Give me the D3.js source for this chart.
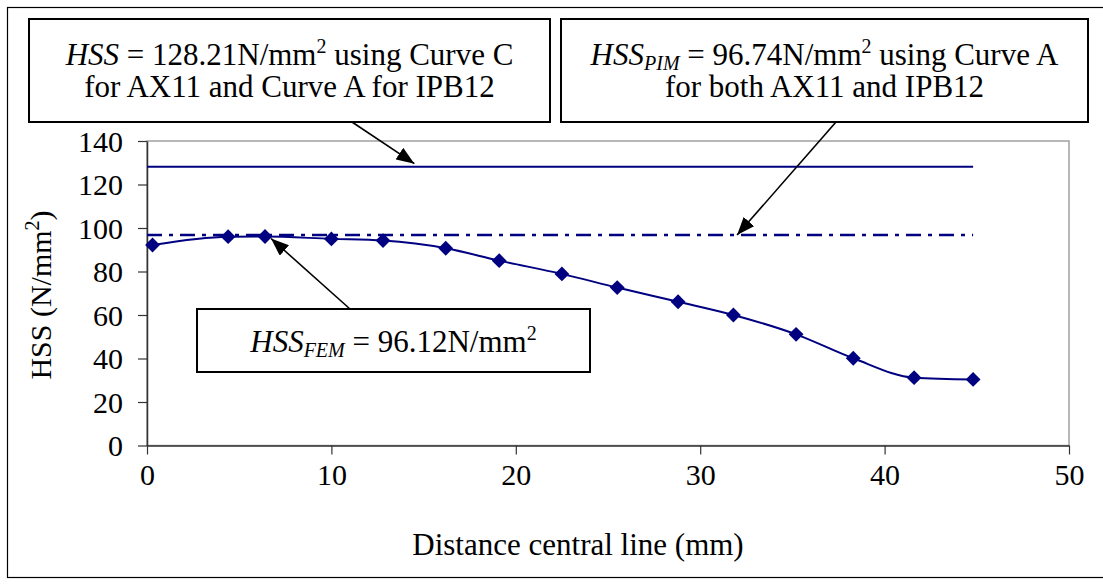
<!DOCTYPE html>
<html>
<head>
<meta charset="utf-8">
<script src="https://cdn.jsdelivr.net/npm/d3@7"></script>
<style>
  body { margin: 0; background: #fff; }
  svg text { font-family: "Liberation Serif", "Times New Roman", serif; fill: #000; }
</style>
</head>
<body>
<div id="container"></div>
<script>
//### DATA ###
const distance = [0.3, 4.4, 6.4, 10.0, 12.8, 16.2, 19.1, 22.5, 25.5, 28.8, 31.8, 35.2, 38.3, 41.6, 44.8];
const hssFem   = [92.2, 96.0, 96.1, 95.0, 94.2, 90.7, 85.0, 78.9, 72.6, 66.1, 60.0, 51.1, 40.1, 31.2, 30.4];
const hssCurveC = 128.21;   // Curve C for AX11, Curve A for IPB12
const hssPim = 96.74;       // Curve A for both
const refRange = [0, 44.8];
const xTicks = [0, 10, 20, 30, 40, 50];
const yTicks = [0, 20, 40, 60, 80, 100, 120, 140];

//### LAYOUT ###
const width = 1103, height = 585;
const plot = { left: 147, right: 1069, top: 141, bottom: 445.5 };
const navy = '#000080';
const tickFont = 30;
const noteFont = 31;

const svg = d3.select('#container').append('svg')
  .attr('width', width).attr('height', height);

//>>> outer chart border
svg.append('rect')
  .attr('x', 7.5).attr('y', 7.5).attr('width', 1100).attr('height', 570)
  .attr('fill', 'none').attr('stroke', '#000').attr('stroke-width', 1.2);

//_____ SCALES _____
const x = d3.scaleLinear().domain([0, 50]).range([plot.left, plot.right]);
const y = d3.scaleLinear().domain([0, 140]).range([plot.bottom, plot.top]);

//>>> plot area frame (gray)
svg.append('rect')
  .attr('x', plot.left).attr('y', plot.top)
  .attr('width', plot.right - plot.left).attr('height', plot.bottom - plot.top)
  .attr('fill', 'none').attr('stroke', '#a0a0a0').attr('stroke-width', 1.5);

//_____ AXES _____
const xAxis = svg.append('g')
  .attr('transform', `translate(0,${plot.bottom})`)
  .call(d3.axisBottom(x).tickValues(xTicks).tickSize(9).tickPadding(9).tickSizeOuter(0));
const yAxis = svg.append('g')
  .attr('transform', `translate(${plot.left},0)`)
  .call(d3.axisLeft(y).tickValues(yTicks).tickSize(9).tickPadding(15).tickSizeOuter(0));

[xAxis, yAxis].forEach(g => {
  g.select('.domain').attr('stroke', '#333').attr('stroke-width', 1.5);
  g.selectAll('line').attr('stroke', '#333').attr('stroke-width', 1.2);
  g.selectAll('text')
    .attr('font-family', '"Liberation Serif", serif')
    .attr('font-size', tickFont).attr('fill', '#000');
});
yAxis.selectAll('text').attr('dy', '0.34em');

//>>> axis titles
svg.append('text')
  .attr('x', 578).attr('y', 555)
  .attr('text-anchor', 'middle').attr('font-size', noteFont)
  .text('Distance central line (mm)');

const yTitle = svg.append('text')
  .attr('transform', `translate(51,295) rotate(-90)`)
  .attr('text-anchor', 'middle').attr('font-size', tickFont);
yTitle.append('tspan').text('HSS (N/mm');
yTitle.append('tspan').attr('font-size', 20).attr('dy', -12).text('2');
yTitle.append('tspan').attr('dy', 12).text(')');

//_____ REFERENCE LINES _____
svg.append('line')
  .attr('x1', x(refRange[0])).attr('x2', x(refRange[1]))
  .attr('y1', y(hssCurveC)).attr('y2', y(hssCurveC))
  .attr('stroke', navy).attr('stroke-width', 2);

svg.append('line')
  .attr('x1', x(refRange[0])).attr('x2', x(refRange[1]))
  .attr('y1', y(hssPim)).attr('y2', y(hssPim))
  .attr('stroke', navy).attr('stroke-width', 2.5)
  .attr('stroke-dasharray', '15,7,4,7');

//_____ FEM CURVE _____
const femData = distance.map((d, i) => ({ x: d, y: hssFem[i] }));
svg.append('path')
  .datum(femData)
  .attr('fill', 'none').attr('stroke', navy).attr('stroke-width', 2)
  .attr('d', d3.line().x(d => x(d.x)).y(d => y(d.y)).curve(d3.curveMonotoneX));

svg.selectAll('.marker')
  .data(femData).enter().append('path')
  .attr('class', 'marker')
  .attr('transform', d => `translate(${x(d.x)},${y(d.y)}) rotate(45)`)
  .attr('d', d3.symbol(d3.symbolSquare, 110))
  .attr('fill', navy);

//_____ ANNOTATIONS _____
svg.append('defs').append('marker')
  .attr('id', 'arrow')
  .attr('markerUnits', 'userSpaceOnUse')
  .attr('viewBox', '0 0 18 14')
  .attr('refX', 18).attr('refY', 7)
  .attr('markerWidth', 18).attr('markerHeight', 14)
  .attr('orient', 'auto')
  .append('path').attr('d', 'M0,0 L18,7 L0,14 Z').attr('fill', '#000');

function box(x0, y0, w, h) {
  svg.append('rect')
    .attr('x', x0).attr('y', y0).attr('width', w).attr('height', h)
    .attr('fill', '#fff').attr('stroke', '#000').attr('stroke-width', 2);
}
function arrow(x1, y1, x2, y2) {
  svg.append('line')
    .attr('x1', x1).attr('y1', y1).attr('x2', x2).attr('y2', y2)
    .attr('stroke', '#000').attr('stroke-width', 1.6)
    .attr('marker-end', 'url(#arrow)');
}
function label(cx, cy, parts) {
  const t = svg.append('text')
    .attr('x', cx).attr('y', cy)
    .attr('text-anchor', 'middle').attr('font-size', noteFont);
  parts.forEach(p => {
    const s = t.append('tspan').text(p.t);
    if (p.i) s.attr('font-style', 'italic');
    if (p.sub) s.attr('font-size', 20).attr('dy', 5);
    if (p.sup) s.attr('font-size', 20).attr('dy', -12);
    if (p.dy) s.attr('dy', p.dy);
  });
}

//>>> HSS (Curve C)
arrow(352, 122, x(14.5), y(hssCurveC) - 3);
box(29, 19, 521, 103);
label(289.5, 65, [
  { t: 'HSS', i: true }, { t: ' = 128.21N/mm' }, { t: '2', sup: true }, { t: ' using Curve C', dy: 12 }
]);
label(289.5, 97, [{ t: 'for AX11 and Curve A for IPB12' }]);

//>>> HSS PIM
arrow(836, 122, x(32), y(hssPim));
box(561, 19, 527, 103);
label(824.5, 65, [
  { t: 'HSS', i: true }, { t: 'PIM', i: true, sub: true }, { t: ' = 96.74N/mm', dy: -5 },
  { t: '2', sup: true }, { t: ' using Curve A', dy: 12 }
]);
label(824.5, 97, [{ t: 'for both AX11 and IPB12' }]);

//>>> HSS FEM
arrow(350, 309, x(distance[2]) + 6, y(hssFem[2]) + 2);
box(197, 309, 393, 63);
label(393.5, 352, [
  { t: 'HSS', i: true }, { t: 'FEM', i: true, sub: true }, { t: ' = 96.12N/mm', dy: -5 },
  { t: '2', sup: true }
]);
</script>
</body>
</html>
